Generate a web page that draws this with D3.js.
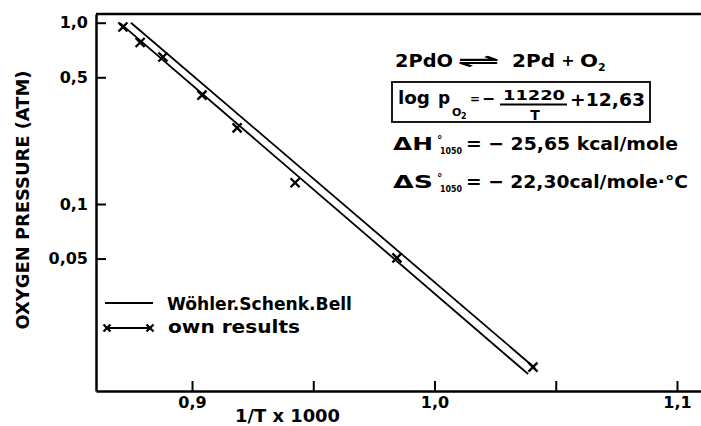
<!DOCTYPE html>
<html>
<head>
<meta charset="utf-8">
<script src="https://cdn.jsdelivr.net/npm/d3@7"></script>
<style>
  body { margin: 0; background: #fff; }
  svg { display: block; font-family: "DejaVu Sans", sans-serif; font-weight: bold; }
</style>
</head>
<body>
<svg width="701" height="426"></svg>
<script>
// values
const ownX = [0.8715, 0.8786, 0.888, 0.9041, 0.9186, 0.9425, 0.9845, 1.0406];
const ownP = [0.947, 0.778, 0.647, 0.399, 0.263, 0.131, 0.0504, 0.0126];
const ownFitX = [0.8703, 1.0386];
const ownFitP = [0.995, 0.01154];
const wohlerX = [0.8748, 1.0414];
const wohlerP = [1.0, 0.01246];
const xTicks = [0.9, 0.95, 1.0, 1.05, 1.1];
const xTickLabels = ["0,9", "", "1,0", "", "1,1"];
const yTicks = [1, 0.5, 0.1, 0.05];
const yTickLabels = ["1,0", "0,5", "0,1", "0,05"];

const svg = d3.select("svg");
const mLeft = 96, mRight = 701, mTop = 14, mBottom = 391;

const x = d3.scaleLinear().domain([0.8604, 1.1099]).range([mLeft, mRight]);
const y = d3.scaleLog().domain([0.0093, 1.117]).range([mBottom, mTop]);

const axisStyle = g => {
  g.select(".domain").attr("stroke-width", 2.5);
  g.selectAll(".tick line").attr("stroke-width", 2);
  g.selectAll("text").attr("font-family", "DejaVu Sans").attr("font-weight", "bold")
    .attr("font-size", 16).attr("fill", "#000");
};

svg.append("g")
  .attr("transform", `translate(0,${mBottom})`)
  .call(d3.axisBottom(x).tickValues(xTicks).tickSizeInner(-10).tickSizeOuter(0).tickPadding(6)
    .tickFormat((d, i) => xTickLabels[i]))
  .call(axisStyle);

svg.append("g")
  .attr("transform", `translate(${mLeft},0)`)
  .call(d3.axisLeft(y).tickValues(yTicks).tickSizeInner(-10).tickSizeOuter(0).tickPadding(8)
    .tickFormat((d, i) => yTickLabels[i]))
  .call(axisStyle);

// top frame line
svg.append("line")
  .attr("x1", mLeft).attr("x2", mRight).attr("y1", mTop).attr("y2", mTop)
  .attr("stroke", "#000").attr("stroke-width", 2.5);

const line = d3.line().x(d => x(d[0])).y(d => y(d[1]));

svg.append("path")
  .datum(wohlerX.map((v, i) => [v, wohlerP[i]]))
  .attr("d", line).attr("fill", "none").attr("stroke", "#000").attr("stroke-width", 1.8);

svg.append("path")
  .datum(ownFitX.map((v, i) => [v, ownFitP[i]]))
  .attr("d", line).attr("fill", "none").attr("stroke", "#000").attr("stroke-width", 1.8);

const cross = "M-4.5,-4.5L4.5,4.5M-4.5,4.5L4.5,-4.5";
svg.selectAll(".mark")
  .data(ownX.map((v, i) => [v, ownP[i]]))
  .enter().append("path")
  .attr("class", "mark")
  .attr("transform", d => `translate(${x(d[0])},${y(d[1])})`)
  .attr("d", cross).attr("stroke", "#000").attr("stroke-width", 2.4);

// text helper: stretch to the width seen in the figure
const txt = (g, px, py, s, size, len, anchor) => {
  const t = g.append("text").attr("x", px).attr("y", py).attr("font-size", size).text(s);
  if (len) t.attr("textLength", len).attr("lengthAdjust", "spacingAndGlyphs");
  if (anchor) t.attr("text-anchor", anchor);
  return t;
};

// legend
const lg = svg.append("g");
lg.append("line").attr("x1", 105).attr("x2", 153).attr("y1", 303).attr("y2", 303)
  .attr("stroke", "#000").attr("stroke-width", 1.8);
txt(lg, 167, 310, "Wöhler.Schenk.Bell", 17, 185);
lg.append("line").attr("x1", 107).attr("x2", 150).attr("y1", 328).attr("y2", 328)
  .attr("stroke", "#000").attr("stroke-width", 1.8);
[107, 150].forEach(px => lg.append("path")
  .attr("transform", `translate(${px},328)`)
  .attr("d", "M-3.5,-3.5L3.5,3.5M-3.5,3.5L3.5,-3.5").attr("stroke", "#000").attr("stroke-width", 2.2));
txt(lg, 168, 333, "own results", 17, 132);

// axis titles
svg.append("text")
  .attr("transform", "translate(29,200) rotate(-90)")
  .attr("text-anchor", "middle").attr("font-size", 17)
  .attr("textLength", 259).attr("lengthAdjust", "spacingAndGlyphs")
  .text("OXYGEN PRESSURE (ATM)");
txt(svg, 235, 422, "1/T x 1000", 17, 105);

// reaction and thermodynamic data
const ann = svg.append("g");
txt(ann, 395, 67, "2PdO", 18, 58);
txt(ann, 457, 67, "⇌", 18, 43);
txt(ann, 512, 67, "2Pd", 18, 43);
txt(ann, 568, 66, "+", 16, null, "middle");
txt(ann, 580, 67, "O", 18, 18);
txt(ann, 598, 71, "2", 11);

ann.append("rect").attr("x", 392).attr("y", 82).attr("width", 258).attr("height", 40)
  .attr("fill", "none").attr("stroke", "#000").attr("stroke-width", 1.8);
txt(ann, 398, 104, "log", 17, 32);
txt(ann, 438, 104, "p", 17);
txt(ann, 452, 116, "O", 11);
txt(ann, 461, 119, "2", 8);
txt(ann, 470, 103, "=", 12);
txt(ann, 482, 104, "−", 17, 13);
txt(ann, 503, 100, "11220", 14, 62);
ann.append("line").attr("x1", 500).attr("x2", 567).attr("y1", 104.5).attr("y2", 104.5)
  .attr("stroke", "#000").attr("stroke-width", 1.8);
txt(ann, 535, 120, "T", 14, null, "middle");
txt(ann, 570, 106, "+12,63", 17, 75);

[["ΔH", 150, "= − 25,65 kcal/mole", 212], ["ΔS", 188, "= − 22,30cal/mole·°C", 222]].forEach(r => {
  txt(ann, 393, r[1], r[0], 18, 40);
  txt(ann, 437, r[1] - 7, "°", 11);
  txt(ann, 440, r[1] + 4, "1050", 8, 22);
  txt(ann, 466, r[1], r[2], 18, r[3]);
});
</script>
</body>
</html>
